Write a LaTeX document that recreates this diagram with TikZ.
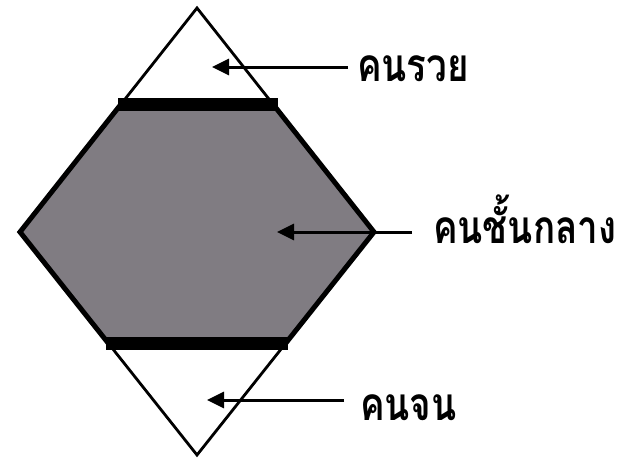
\documentclass[tikz,border=0pt]{standalone}
\usepackage{fontspec}
\newfontfamily\thaifont[Script=Thai,FakeStretch=0.8]{Loma}
\usetikzlibrary{arrows.meta,calc}
\definecolor{midgray}{RGB}{128,124,130}
\tikzset{
  thin edge/.style={line width=2.8pt, line join=miter},
  hex edge/.style={line width=5pt, line join=miter},
  bar/.style={line width=13pt, line cap=butt},
  pointer/.style={line width=3pt, -{Triangle[length=17pt,width=16pt]}},
  label/.style={font=\thaifont\bfseries\fontsize{46}{50}\selectfont, anchor=base west, inner sep=0pt}
}
\begin{document}
\begin{tikzpicture}[x=1pt,y=-1pt]
\useasboundingbox (0,0) rectangle (628,459);
\coordinate (T) at (197,8);
\coordinate (R) at (374,232);
\coordinate (B) at (197,455);
\coordinate (L) at (20,232);
% cut points
\coordinate (TL) at ($(T)!0.4286!(L)$);
\coordinate (TR) at ($(T)!0.4286!(R)$);
\coordinate (BL) at ($(L)!0.502!(B)$);
\coordinate (BR) at ($(R)!0.502!(B)$);
% triangles
\draw[thin edge, fill=white] (TL) -- (T) -- (TR);
\draw[thin edge, fill=white] (BL) -- (B) -- (BR);
% hexagon
\fill[midgray] (TL) -- (TR) -- (R) -- (BR) -- (BL) -- (L) -- cycle;
\draw[hex edge] (TL) -- (L) -- (BL);
\draw[hex edge] (TR) -- (R) -- (BR);
% bars
\draw[bar] ($(TL)+(-3,0)$) -- ($(TR)+(5,0)$);
\draw[bar] ($(BL)+(-3,0)$) -- ($(BR)+(3,0)$);
% labels
\node[label] (rich) at (357,81) {คนรวย};
\node[label] (middle) at (433,243) {คนชั้นกลาง};
\node[label] (poor) at (360,420) {คนจน};
% arrows
\coordinate (s1) at (348,67);
\coordinate (a1) at (212,67);
\coordinate (s2) at (412,232);
\coordinate (a2) at (277,232);
\coordinate (s3) at (344,400);
\coordinate (a3) at (207,400);
\draw[pointer] (s1) -- (a1);
\draw[pointer] (s2) -- (a2);
\draw[pointer] (s3) -- (a3);
\end{tikzpicture}
\end{document}
